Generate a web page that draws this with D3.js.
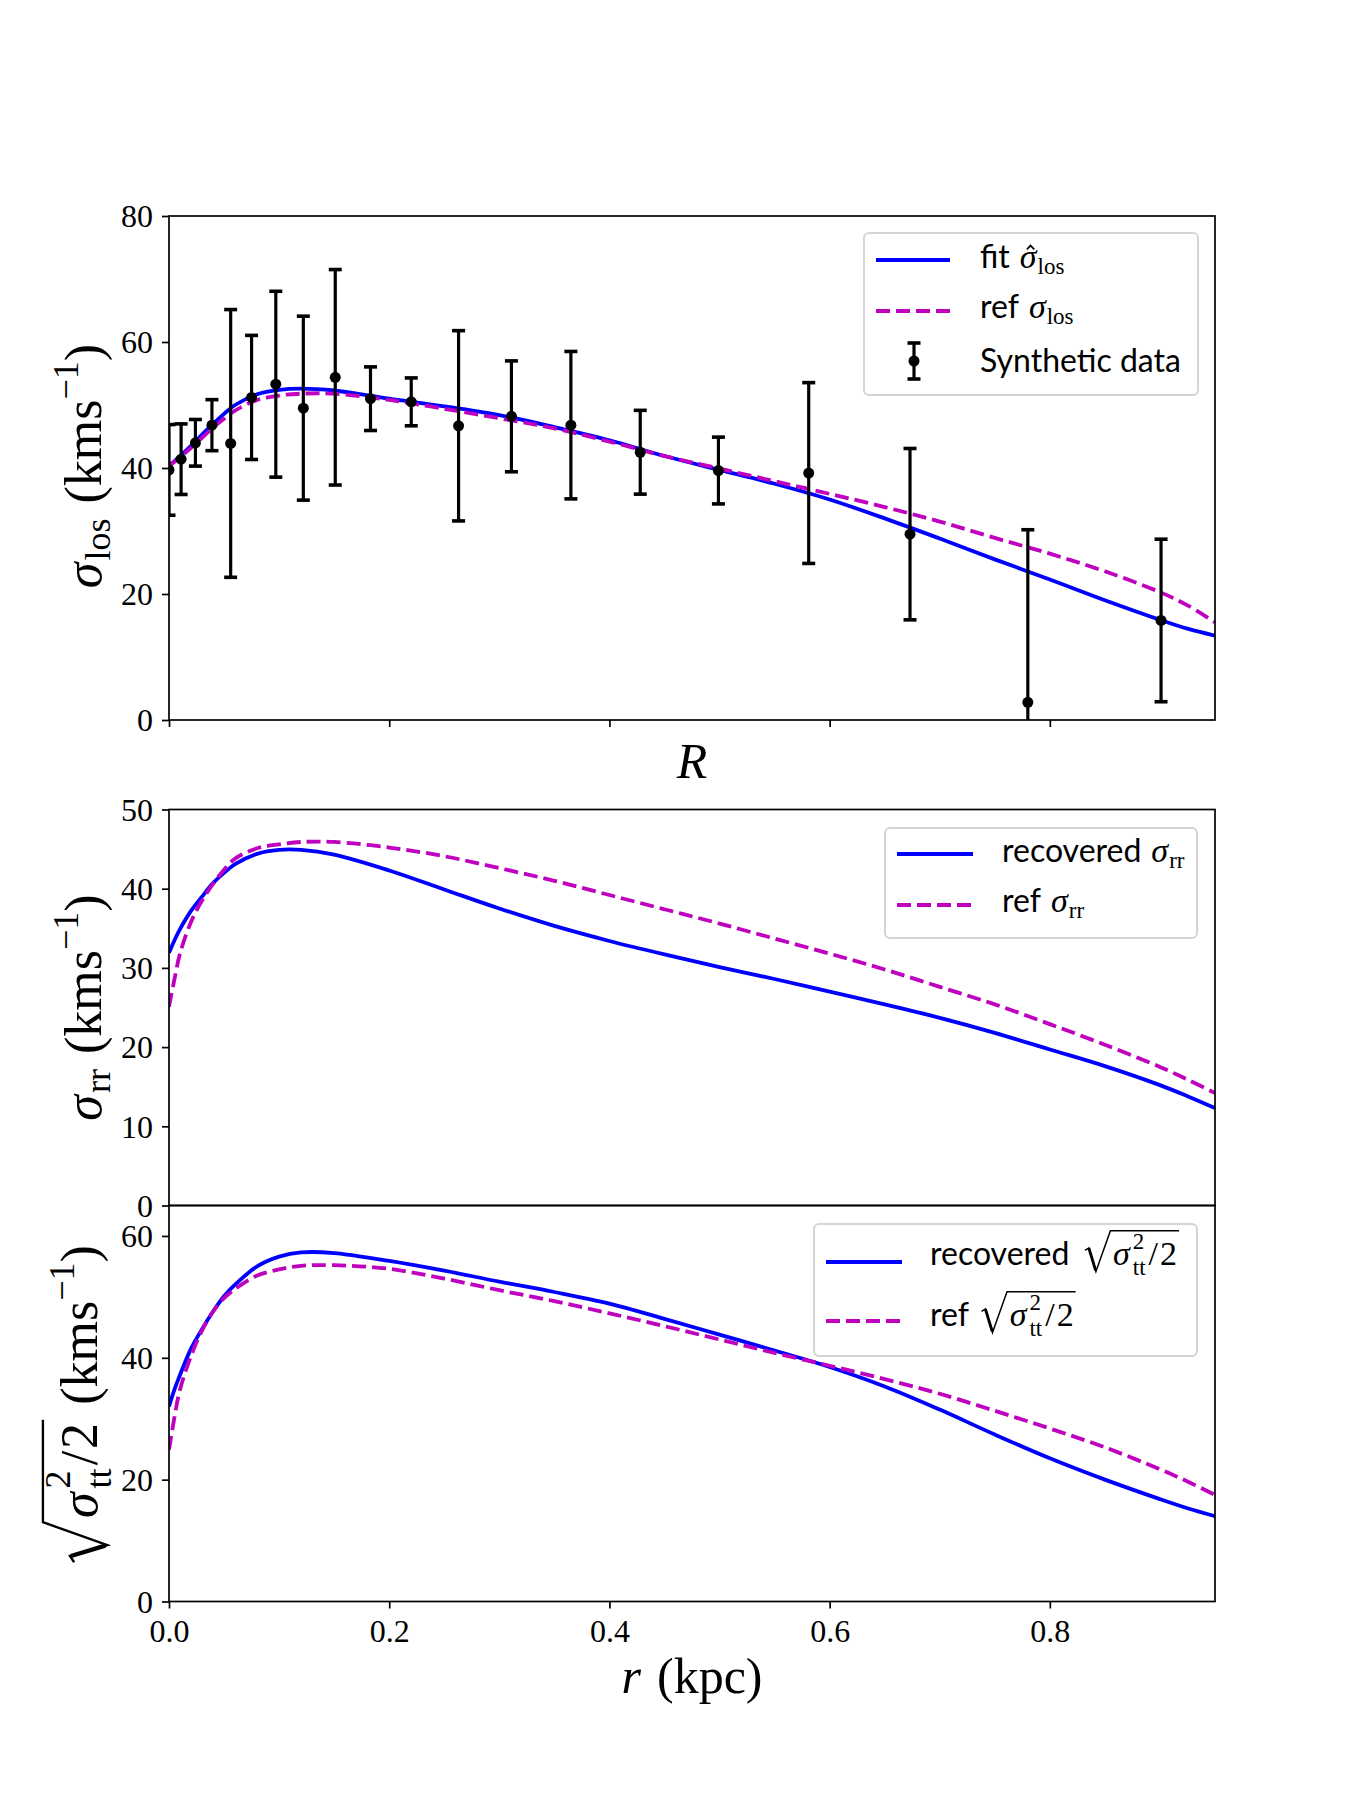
<!DOCTYPE html>
<html><head><meta charset="utf-8">
<script src="https://cdnjs.cloudflare.com/ajax/libs/d3/7.8.5/d3.min.js"></script>
<style>body{margin:0;background:#fff}</style>
</head><body>
<script>
// ---------------- data ----------------
const rGrid = [0, 0.005, 0.01, 0.02, 0.03, 0.04, 0.05, 0.06, 0.08, 0.1, 0.12, 0.15, 0.2, 0.25, 0.3, 0.35, 0.4, 0.45, 0.5, 0.55, 0.6, 0.65, 0.7, 0.75, 0.8, 0.85, 0.9, 0.925, 0.95];
const losFit = [40.3, 41.1, 41.9, 43.5, 45.3, 47.0, 48.6, 50.0, 51.7, 52.4, 52.6, 52.3, 51.0, 49.8, 48.4, 46.5, 44.4, 41.9, 39.7, 37.5, 35.0, 32.0, 28.8, 25.5, 22.3, 19.0, 15.9, 14.5, 13.4];
const losRef = [40.3, 41.0, 41.7, 43.2, 44.8, 46.4, 47.8, 49.1, 50.8, 51.5, 51.8, 51.8, 50.8, 49.4, 47.9, 46.3, 44.2, 41.9, 39.9, 37.9, 35.9, 33.8, 31.5, 28.9, 26.4, 23.6, 20.3, 18.2, 15.5];
const rrRec = [31.9, 33.5, 34.9, 37.2, 39.0, 40.7, 42.0, 43.1, 44.4, 44.9, 44.9, 44.3, 42.3, 39.9, 37.5, 35.3, 33.4, 31.7, 30.1, 28.6, 27.0, 25.4, 23.7, 21.8, 19.7, 17.6, 15.2, 13.8, 12.3];
const rrRef = [25.1, 28.6, 31.8, 35.8, 38.5, 40.6, 42.4, 43.8, 45.1, 45.6, 45.9, 45.9, 45.2, 44.1, 42.6, 41.0, 39.2, 37.4, 35.6, 33.7, 31.8, 29.8, 27.6, 25.4, 22.9, 20.3, 17.5, 15.9, 14.2];
const ttRec = [32.0, 34.8, 37.2, 41.5, 44.7, 47.6, 50.1, 52.0, 55.0, 56.6, 57.3, 57.2, 55.9, 54.3, 52.5, 50.8, 48.9, 46.4, 43.8, 41.2, 38.5, 35.3, 31.5, 27.4, 23.5, 20.0, 16.8, 15.3, 14.0];
const ttRef = [24.9, 30.3, 34.8, 40.3, 44.5, 47.6, 49.8, 51.3, 53.5, 54.5, 55.1, 55.2, 54.6, 53.0, 51.1, 49.3, 47.3, 45.2, 43.0, 40.8, 38.7, 36.5, 34.1, 31.3, 28.4, 25.3, 21.7, 19.7, 17.5];

const dataR     = [0.000, 0.011, 0.024, 0.039, 0.056, 0.075, 0.097, 0.122, 0.151, 0.183, 0.220, 0.263, 0.311, 0.365, 0.428, 0.499, 0.581, 0.673, 0.780, 0.901];
const dataSigma = [39.7, 41.4, 44.0, 46.8, 43.9, 51.2, 53.3, 49.5, 54.4, 51.0, 50.5, 46.7, 48.2, 46.8, 42.5, 39.6, 39.2, 29.5, 2.8, 15.8];
const dataErr   = [7.2, 5.6, 3.7, 4.05, 21.25, 9.85, 14.75, 14.6, 17.1, 5.05, 3.8, 15.1, 8.8, 11.7, 6.65, 5.3, 14.35, 13.6, 27.4, 12.9];

const xTicks = [0, 0.2, 0.4, 0.6, 0.8];
const yTicksLos = [0, 20, 40, 60, 80];
const yTicksRR = [0, 10, 20, 30, 40, 50];
const yTicksTT = [0, 20, 40, 60];

// ---------------- setup ----------------
const W = 1350, H = 1800;
const SERIF = "'Liberation Serif', serif";
const SANS = "Lato, 'Noto Sans', sans-serif";
const BLUE = "#0000ff", MAG = "#bf00bf";
const LW = 3.8, DASH = "14,6";
const svg = d3.select("body").append("svg").attr("width", W).attr("height", H);
svg.append("rect").attr("width", W).attr("height", H).attr("fill", "#fff");

const x = d3.scaleLinear().domain([0, 0.95]).range([169, 1215]);
const panels = [
  {top: 216, bottom: 720, ymax: 80, ticks: yTicksLos, series: [losFit, losRef], xlabels: false},
  {top: 809.5, bottom: 1205.5, ymax: 50, ticks: yTicksRR, series: [rrRec, rrRef], xlabels: null},
  {top: 1205.5, bottom: 1601.5, ymax: 65, ticks: yTicksTT, series: [ttRec, ttRef], xlabels: true}
];

// math text helpers
function styleText(t, it) {
  return t.attr("font-family", it.sans ? SANS : SERIF)
    .attr("font-style", it.it ? "italic" : "normal")
    .attr("font-size", it.size).attr("fill", "#000");
}
function putText(g, it, x0) {
  const t = styleText(g.append("text").attr("x", x0).attr("y", it.dy || 0), it).text(it.t);
  const w = t.node().getComputedTextLength();
  if (it.hat) {
    const s = it.size, hx = x0 + w / 2 + s * 0.07;
    g.append("path").attr("fill", "none").attr("stroke", "#000").attr("stroke-width", s * 0.05)
      .attr("d", `M${hx - s * 0.11},${-s * 0.55} L${hx},${-s * 0.66} L${hx + s * 0.11},${-s * 0.55}`);
  }
  return w + (it.after || 0);
}
function putStack(g, it, x0) {
  let w = 0;
  it.stack.forEach(s => {
    const ts = styleText(g.append("text").attr("x", x0).attr("y", s.dy || 0), s).text(s.t);
    w = Math.max(w, ts.node().getComputedTextLength());
  });
  return w + (it.after || 0);
}
function layout(g, items, x0) {
  let cx = x0;
  for (const it of items) {
    if (it.gap) { cx += it.gap; continue; }
    if (it.sqrt) {
      const s = it.size;
      const st = cx;
      const inner = layout(g, it.sqrt, cx + 0.9 * s);
      const end = inner + 0.06 * s;
      g.append("path").attr("fill", "none").attr("stroke", "#000")
        .attr("stroke-width", 0.045 * s).attr("stroke-linejoin", "miter")
        .attr("d", `M${st + 0.05 * s},${-0.44 * s} L${st + 0.17 * s},${-0.52 * s} L${st + 0.38 * s},${0.2 * s} L${st + 0.82 * s},${-1.04 * s} L${end},${-1.04 * s}`);
      g.append("path").attr("fill", "none").attr("stroke", "#000")
        .attr("stroke-width", 0.085 * s)
        .attr("d", `M${st + 0.17 * s},${-0.5 * s} L${st + 0.37 * s},${0.16 * s}`);
      cx = end;
      continue;
    }
    if (it.stack) { cx += putStack(g, it, cx); continue; }
    cx += putText(g, it, cx);
  }
  return cx;
}

// ---------------- panels ----------------
const lineGen = (y) => d3.line().x((d, i) => x(rGrid[i])).y(d => y(d)).curve(d3.curveCatmullRom.alpha(0.5));

panels.forEach((p, pi) => {
  const y = d3.scaleLinear().domain([0, p.ymax]).range([p.bottom, p.top]);
  const clipId = "clip" + pi;
  svg.append("clipPath").attr("id", clipId).append("rect")
    .attr("x", x(0)).attr("y", p.top).attr("width", x(0.95) - x(0)).attr("height", p.bottom - p.top);
  const plot = svg.append("g").attr("clip-path", `url(#${clipId})`);
  plot.append("path").datum(p.series[0]).attr("fill", "none").attr("stroke", BLUE)
    .attr("stroke-width", LW).attr("d", lineGen(y));
  plot.append("path").datum(p.series[1]).attr("fill", "none").attr("stroke", MAG)
    .attr("stroke-width", LW).attr("stroke-dasharray", DASH).attr("d", lineGen(y));
  if (pi === 0) {
    const eb = plot.append("g");
    dataR.forEach((r, i) => {
      const cx = x(r), lo = y(dataSigma[i] - dataErr[i]), hi = y(dataSigma[i] + dataErr[i]);
      eb.append("line").attr("x1", cx).attr("x2", cx).attr("y1", lo).attr("y2", hi)
        .attr("stroke", "#000").attr("stroke-width", 3.2);
      [lo, hi].forEach(yy => eb.append("line").attr("x1", cx - 6.5).attr("x2", cx + 6.5)
        .attr("y1", yy).attr("y2", yy).attr("stroke", "#000").attr("stroke-width", 3.6));
      eb.append("circle").attr("cx", cx).attr("cy", y(dataSigma[i])).attr("r", 5.5).attr("fill", "#000");
    });
  }
  const ya = svg.append("g").attr("transform", `translate(${x(0)},0)`)
    .call(d3.axisLeft(y).tickValues(p.ticks).tickSize(7).tickPadding(9).tickSizeOuter(0).tickFormat(d3.format("d")));
  ya.select(".domain").remove();
  ya.selectAll("line").attr("stroke", "#000").attr("stroke-width", 1.7);
  ya.selectAll("text").attr("font-family", SERIF).attr("font-size", 32).attr("fill", "#000").attr("dy", "0.34em");
  if (p.xlabels !== null) {
    const xa = svg.append("g").attr("transform", `translate(0,${p.bottom})`)
      .call(d3.axisBottom(x).tickValues(xTicks).tickSize(7).tickPadding(11).tickSizeOuter(0)
        .tickFormat(p.xlabels ? d3.format(".1f") : () => ""));
    xa.select(".domain").remove();
    xa.selectAll("line").attr("stroke", "#000").attr("stroke-width", 1.7);
    xa.selectAll("text").attr("font-family", SERIF).attr("font-size", 32).attr("fill", "#000");
  }
  svg.append("rect").attr("x", x(0)).attr("y", p.top).attr("width", x(0.95) - x(0))
    .attr("height", p.bottom - p.top).attr("fill", "none").attr("stroke", "#000").attr("stroke-width", 1.7);
});

// ---------------- axis labels ----------------
const S = 52, s2 = 36;
function yLabel(bx, cy, items) {
  const g = svg.append("g").attr("transform", `translate(${bx},${cy}) rotate(-90)`);
  const inner = g.append("g");
  const w = layout(inner, items, 0);
  inner.attr("transform", `translate(${-w / 2},0)`);
}
const kms = [{gap: 15}, {t: "(kms", size: S}, {t: "\u22121", size: s2, dy: -23}, {t: ")", size: S}];
yLabel(101, 466, [{t: "σ", it: true, size: S, after: 2}, {t: "los", size: s2, dy: 9}].concat(kms));
yLabel(101, 1007.5, [{t: "σ", it: true, size: S, after: 2}, {t: "rr", size: s2, dy: 9}].concat(kms));
yLabel(97, 1405, [{sqrt: [{t: "σ", it: true, size: S, after: 4}, {stack: [{t: "2", size: s2, dy: -27}, {t: "tt", size: s2, dy: 14}], after: 3}, {t: "/", size: S, after: 2}, {t: "2", size: S}], size: S}].concat(kms));

function centered(cx, by, items) {
  const g = svg.append("g").attr("transform", `translate(${cx},${by})`);
  const inner = g.append("g");
  const w = layout(inner, items, 0);
  inner.attr("transform", `translate(${-w / 2},0)`);
}
centered(692, 778, [{t: "R", it: true, size: 50}]);
centered(692, 1693, [{t: "r", it: true, size: 50}, {gap: 16}, {t: "(kpc)", size: 50}]);

// ---------------- legends ----------------
const LS = 32, LSub = 23;
function legendBox(x0, y0, x1, y1) {
  svg.append("rect").attr("x", x0).attr("y", y0).attr("width", x1 - x0).attr("height", y1 - y0)
    .attr("rx", 5).attr("fill", "#fff").attr("fill-opacity", 0.8)
    .attr("stroke", "#d5d5d5").attr("stroke-width", 2);
}
function legendLine(x0, x1, yy, color, dashed) {
  const l = svg.append("line").attr("x1", x0).attr("x2", x1).attr("y1", yy).attr("y2", yy)
    .attr("stroke", color).attr("stroke-width", LW);
  if (dashed) l.attr("stroke-dasharray", DASH);
}
function legendText(x0, by, items) {
  const g = svg.append("g").attr("transform", `translate(${x0},${by})`);
  layout(g, items, 0);
}
legendBox(864, 233, 1198, 395);
legendLine(876, 950, 260, BLUE, false);
legendText(980, 268, [{t: "fit", sans: true, size: LS}, {gap: 10}, {t: "σ", it: true, size: 34, hat: true, after: 1}, {t: "los", size: LSub, dy: 6}]);
legendLine(876, 950, 311, MAG, true);
legendText(980, 318, [{t: "ref", sans: true, size: LS}, {gap: 10}, {t: "σ", it: true, size: 34, after: 1}, {t: "los", size: LSub, dy: 6}]);
{
  const mx = 914, my = 361;
  svg.append("line").attr("x1", mx).attr("x2", mx).attr("y1", 343).attr("y2", 379).attr("stroke", "#000").attr("stroke-width", 3.2);
  [343, 379].forEach(yy => svg.append("line").attr("x1", mx - 6.5).attr("x2", mx + 6.5).attr("y1", yy).attr("y2", yy).attr("stroke", "#000").attr("stroke-width", 3.6));
  svg.append("circle").attr("cx", mx).attr("cy", my).attr("r", 5.5).attr("fill", "#000");
}
legendText(980, 372, [{t: "Synthetic data", sans: true, size: LS}]);

legendBox(885, 828, 1197, 938);
legendLine(897, 973, 854, BLUE, false);
legendText(1002, 862, [{t: "recovered", sans: true, size: LS}, {gap: 10}, {t: "σ", it: true, size: 34, after: 1}, {t: "rr", size: LSub, dy: 6}]);
legendLine(897, 973, 905, MAG, true);
legendText(1002, 912, [{t: "ref", sans: true, size: LS}, {gap: 10}, {t: "σ", it: true, size: 34, after: 1}, {t: "rr", size: LSub, dy: 6}]);

const sqrtLeg = [{sqrt: [{t: "σ", it: true, size: 34, after: 3}, {stack: [{t: "2", size: LSub, dy: -16}, {t: "tt", size: LSub, dy: 10}], after: 3}, {t: "/", size: 34, after: 2}, {t: "2", size: 34}], size: 33}];
legendBox(814, 1224, 1197, 1356);
legendLine(826, 902, 1262, BLUE, false);
legendText(930, 1265, [{t: "recovered", sans: true, size: LS}, {gap: 14}].concat(sqrtLeg));
legendLine(826, 902, 1321, MAG, true);
legendText(930, 1326, [{t: "ref", sans: true, size: LS}, {gap: 11}].concat(sqrtLeg));
</script>
</body></html>
